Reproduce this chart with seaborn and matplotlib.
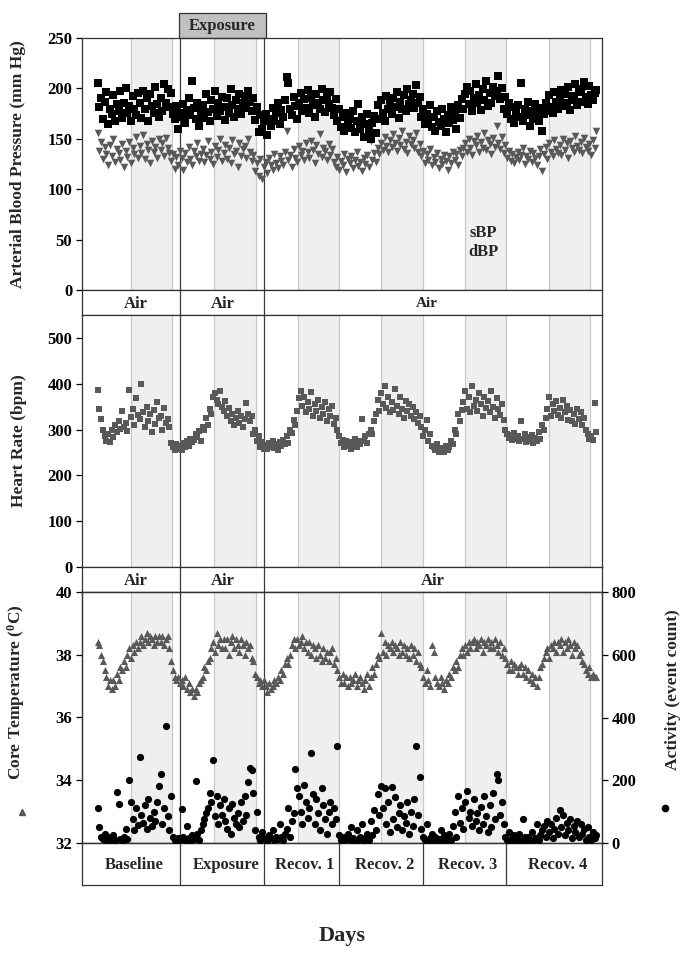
import numpy as np
import pandas as pd
import matplotlib
matplotlib.use('Agg')
import matplotlib.pyplot as plt
import matplotlib.transforms as mtransforms
from matplotlib.patches import Rectangle
from matplotlib.lines import Line2D
import seaborn as sns

# 30 min samples starting at 4.5 h
sbp = [205, 182, 190, 170, 187, 196, 165, 180, 175, 193, 168, 185,
       178, 197, 171, 186, 200, 176, 183, 168, 192, 180, 174, 195,
       186, 171, 197, 180, 190, 168, 194, 183, 176, 201, 185, 172,
       190, 178, 204, 186, 199, 182, 195, 175, 170, 183, 160, 176,
       172, 185, 166, 179, 190, 174, 207, 181, 170, 186, 163, 178,
       184, 171, 194, 177, 168, 188, 180, 197, 173, 186, 178, 191,
       182, 169, 190, 176, 199, 184, 172, 188, 180, 194, 175, 186,
       192, 181, 197, 187, 178, 190, 169, 182, 157, 174, 160, 168,
       175, 154, 170, 163, 181, 168, 176, 186, 165, 179, 172, 188,
       211, 205, 180, 174, 191, 183, 170, 186, 195, 178, 189, 181,
       198, 176, 190, 184, 172, 194, 186, 180, 199, 188, 177, 192,
       185, 196, 181, 174, 189, 168, 180, 162, 172, 158, 176, 166,
       170, 161, 178, 157, 168, 185, 160, 172, 152, 165, 175, 158,
       150, 166, 173, 156, 184, 170, 188, 176, 168, 192, 180, 185,
       175, 190, 182, 196, 171, 187, 180, 193, 178, 199, 185, 188,
       194, 181, 203, 186, 191, 172, 180, 165, 175, 168, 184, 162,
       172, 158, 178, 167, 163, 180, 170, 157, 174, 166, 182, 169,
       176, 160, 184, 171, 189, 180, 194, 201, 185, 197, 178, 190,
       204, 186, 193, 179, 199, 188, 207, 183, 195, 186, 201, 192,
       197, 212, 189, 200, 180, 191, 175, 186, 170, 182, 166, 178,
       184, 172, 205, 168, 180, 174, 187, 163, 178, 170, 185, 176,
       168, 181, 158, 175, 186, 178, 193, 182, 176, 196, 187, 180,
       190, 198, 183, 194, 186, 201, 179, 192, 188, 204, 184, 196,
       199, 187, 206, 191, 185, 202, 193, 188, 195, 198]

dbp = [156, 138, 147, 130, 142, 135, 124, 144, 133, 150, 127, 140,
       136, 129, 145, 122, 138, 132, 147, 126, 141, 135, 152, 131,
       143, 136, 154, 130, 145, 139, 126, 148, 137, 142, 131, 150,
       139, 146, 133, 151, 141, 136, 128, 135, 120, 132, 124, 138,
       131, 119, 136, 127, 142, 130, 124, 138, 133, 146, 128, 135,
       140, 127, 134, 148, 130, 137, 125, 143, 132, 139, 150, 128,
       136, 144, 130, 141, 126, 149, 135, 138, 122, 146, 133, 140,
       143, 131, 150, 137, 128, 134, 118, 126, 113, 130, 110, 122,
       127, 116, 131, 124, 119, 135, 126, 121, 133, 128, 124, 137,
       158, 129, 134, 122, 140, 131, 127, 143, 134, 138, 129, 146,
       137, 131, 148, 139, 126, 144, 135, 155, 132, 141, 138, 129,
       145, 134, 140, 127, 122, 132, 119, 128, 124, 135, 117, 130,
       126, 133, 121, 129, 137, 123, 127, 118, 131, 125, 134, 122,
       148, 129, 136, 127, 141, 135, 146, 139, 152, 143, 137, 149,
       142, 155, 146, 138, 151, 144, 158, 140, 147, 136, 153, 145,
       149, 141, 156, 137, 145, 133, 138, 126, 135, 129, 140, 124,
       132, 127, 136, 121, 130, 125, 134, 128, 119, 133, 126, 137,
       129, 135, 124, 139, 133, 141, 146, 137, 150, 141, 134, 148,
       144, 153, 137, 147, 141, 156, 139, 149, 145, 135, 151, 142,
       163, 146, 140, 152, 136, 144, 131, 138, 128, 135, 126, 132,
       137, 129, 134, 141, 125, 133, 130, 138, 127, 136, 131, 124,
       133, 140, 118, 135, 142, 130, 146, 137, 133, 149, 140, 136,
       144, 134, 150, 139, 146, 131, 148, 141, 137, 153, 143, 139,
       147, 136, 151, 142, 138, 145, 134, 149, 141, 158]

heart_rate = [387, 345, 322, 298, 285, 275, 290, 272, 300, 283, 310, 295,
              318, 302, 340, 306, 314, 296, 386, 328, 345, 310, 368, 332,
              322, 400, 338, 305, 350, 318, 335, 295, 342, 312, 360, 325,
              330, 298, 346, 315, 322, 305, 270, 262, 255, 268, 258, 264,
              256, 270, 262, 275, 265, 280, 272, 278, 290, 284, 296, 275,
              305, 298, 325, 310, 345, 335, 372, 380, 365, 355, 385, 350,
              340, 362, 330, 348, 318, 335, 310, 325, 340, 315, 330, 305,
              322, 357, 335, 318, 330, 290, 300, 275, 285, 262, 272, 258,
              266, 258, 270, 262, 275, 260, 268, 255, 272, 264, 278, 268,
              285, 270, 300, 292, 320, 310, 340, 368, 385, 352, 372, 338,
              360, 345, 382, 330, 355, 340, 365, 325, 350, 335, 360, 318,
              345, 330, 352, 312, 325, 300, 285, 270, 278, 262, 275, 265,
              272, 258, 268, 280, 262, 275, 268, 322, 275, 285, 270, 290,
              300, 290, 318, 335, 365, 340, 380, 355, 395, 348, 372, 338,
              360, 342, 388, 352, 335, 370, 345, 325, 362, 340, 355, 330,
              350, 322, 338, 315, 330, 305, 285, 300, 320, 275, 290, 265,
              262, 255, 268, 250, 260, 258, 252, 265, 255, 262, 275, 268,
              300, 290, 335, 318, 342, 360, 385, 345, 370, 338, 395, 352,
              365, 340, 380, 355, 330, 372, 348, 362, 338, 385, 350, 325,
              368, 345, 332, 355, 320, 300, 290, 282, 288, 278, 292, 280,
              285, 276, 318, 280, 290, 272, 284, 275, 288, 270, 282, 276,
              295, 280, 310, 298, 325, 345, 370, 330, 355, 340, 362, 332,
              348, 325, 365, 338, 352, 320, 342, 318, 335, 312, 345, 322,
              338, 310, 325, 300, 290, 280, 285, 278, 357, 295]

core_temp = [38.4, 38.3, 38.0, 37.8, 37.5, 37.3, 37.0, 37.2, 36.9, 37.2, 37.0, 37.4,
             37.2, 37.6, 37.5, 37.8, 37.6, 38.0, 38.2, 37.9, 38.3, 38.1, 38.4, 38.2,
             38.4, 38.6, 38.3, 38.5, 38.7, 38.4, 38.6, 38.5, 38.3, 38.6, 38.4, 38.6,
             38.4, 38.6, 38.3, 38.5, 38.6, 38.2, 37.8, 37.5, 37.3, 37.2, 37.3, 37.1,
             37.2, 37.0, 37.3, 36.9, 37.1, 36.8, 36.9, 36.7, 36.9, 36.8, 37.1, 37.2,
             37.3, 37.6, 37.5, 37.8, 37.9, 38.2, 38.4, 38.1, 38.7, 38.3, 38.5, 38.2,
             38.5, 38.2, 38.5, 38.0, 38.4, 38.6, 38.2, 38.5, 38.3, 38.1, 38.5, 38.3,
             38.0, 38.4, 38.2, 38.3, 37.9, 37.8, 37.4, 37.3, 37.1, 37.2, 37.0, 37.2,
             37.0, 36.8, 37.1, 36.9, 37.0, 37.2, 37.1, 37.3, 37.2, 37.5, 37.4, 37.7,
             37.9, 37.7, 38.0, 38.3, 38.5, 38.2, 38.5, 38.3, 38.4, 38.6, 38.2, 38.4,
             38.1, 38.4, 38.0, 38.3, 38.2, 37.9, 38.3, 38.0, 37.8, 38.2, 37.9, 38.1,
             37.8, 38.1, 38.2, 37.7, 37.9, 37.5, 37.3, 37.1, 37.4, 37.1, 37.3, 37.0,
             37.3, 37.1, 37.2, 37.4, 37.0, 37.2, 37.3, 37.1, 36.9, 37.2, 37.4, 37.0,
             37.3, 37.6, 37.4, 37.7, 38.0, 37.9, 38.7, 38.1, 38.4, 38.0, 38.3, 38.2,
             38.4, 38.1, 38.3, 38.2, 38.0, 38.4, 38.1, 38.3, 38.0, 38.2, 37.9, 38.3,
             38.0, 38.2, 37.8, 38.1, 37.7, 37.6, 37.3, 37.1, 37.5, 37.2, 37.0, 38.3,
             38.1, 37.3, 37.1, 37.0, 37.3, 37.1, 36.9, 37.2, 37.1, 37.4, 37.3, 37.6,
             37.5, 37.8, 37.6, 38.0, 38.2, 38.0, 38.3, 38.1, 38.4, 38.2, 38.4, 38.5,
             38.2, 38.4, 38.3, 38.5, 38.1, 38.4, 38.3, 38.5, 38.2, 38.4, 38.2, 38.5,
             38.3, 38.1, 38.4, 38.0, 38.2, 37.9, 37.7, 37.5, 37.8, 37.5, 37.7, 37.6,
             37.4, 37.6, 37.7, 37.4, 37.6, 37.3, 37.5, 37.2, 37.4, 37.1, 37.3, 37.0,
             37.3, 37.6, 37.7, 37.9, 38.1, 38.2, 37.9, 38.3, 38.2, 38.4, 38.1, 38.4,
             38.3, 38.5, 38.1, 38.4, 38.2, 38.5, 38.3, 38.0, 38.4, 38.2, 38.3, 38.0,
             38.1, 37.8, 37.7, 37.5, 37.4, 37.6, 37.3, 37.4, 37.3, 37.3]

activity = [113, 50, 20, 12, 30, 8, 18, 5, 15, 25, 10, 161,
            123, 12, 6, 20, 45, 14, 200, 130, 75, 40, 110, 58,
            274, 90, 65, 120, 45, 140, 80, 55, 100, 70, 130, 183,
            219, 60, 110, 374, 85, 40, 150, 20, 10, 5, 15, 8,
            108, 20, 10, 55, 15, 5, 25, 12, 199, 30, 8, 40,
            60, 75, 95, 110, 160, 130, 264, 85, 150, 60, 120, 90,
            140, 70, 45, 110, 30, 125, 80, 60, 95, 50, 130, 70,
            150, 90, 195, 238, 233, 160, 40, 100, 20, 8, 35, 15,
            10, 5, 25, 15, 40, 8, 20, 12, 60, 18, 10, 30,
            45, 112, 20, 70, 95, 235, 175, 150, 100, 60, 185, 130,
            80, 110, 286, 155, 60, 140, 95, 40, 175, 120, 75, 30,
            100, 130, 60, 110, 75, 309, 25, 10, 5, 20, 12, 30,
            8, 50, 15, 5, 40, 10, 20, 60, 6, 15, 30, 10,
            70, 25, 105, 40, 156, 90, 183, 110, 176, 60, 130, 35,
            180, 75, 146, 50, 95, 120, 40, 85, 65, 130, 30, 100,
            55, 140, 309, 90, 209, 45, 20, 10, 60, 5, 15, 30,
            8, 20, 5, 12, 40, 10, 25, 6, 18, 30, 10, 55,
            100, 20, 150, 65, 110, 45, 130, 165, 80, 100, 55, 140,
            70, 95, 40, 115, 60, 150, 85, 35, 120, 50, 160, 75,
            219, 200, 90, 130, 60, 20, 10, 35, 5, 15, 25, 8,
            12, 30, 5, 76, 18, 8, 20, 10, 35, 6, 15, 60,
            10, 25, 40, 55, 20, 70, 35, 60, 15, 45, 80, 30,
            105, 50, 90, 25, 65, 40, 75, 15, 55, 35, 70, 20,
            60, 30, 45, 10, 50, 20, 8, 35, 15, 25]

day_edges = [0, 28.1, 52.1, 73.4, 97.4, 121.3, 148.6]
day_names = ['Baseline', 'Exposure', 'Recov. 1', 'Recov. 2', 'Recov. 3', 'Recov. 4']
dark_on = [13.9, 37.7, 61.6, 85.5, 109.5, 133.4]
dark_off = [25.7, 49.6, 73.4, 97.4, 121.3, 145.2]


def hours(v):
    return 4.5 + 0.5 * np.arange(len(v))


bp_df = pd.DataFrame({'hours': hours(sbp), 'sBP': sbp, 'dBP': dbp[:len(sbp)]})
hr_df = pd.DataFrame({'hours': hours(heart_rate), 'HR': heart_rate})
tc_df = pd.DataFrame({'hours': hours(core_temp), 'Tc': core_temp})
act_df = pd.DataFrame({'hours': hours(activity), 'Act': activity})

sns.set_theme(style='ticks')
plt.rcParams['font.family'] = ['Liberation Serif', 'DejaVu Serif']
plt.rcParams['font.weight'] = 'bold'
plt.rcParams['axes.labelweight'] = 'bold'
plt.rcParams['mathtext.fontset'] = 'custom'
plt.rcParams['mathtext.rm'] = 'Liberation Serif:bold'
plt.rcParams['mathtext.it'] = 'Liberation Serif:bold'

GREY = '#595959'
EDGE = '#333333'
XMAX = day_edges[-1]

fig = plt.figure(figsize=(6.85, 9.59), dpi=100)
L, W = 82 / 685, 520 / 685


def fy(px):
    return 1 - px / 959


ax_bp = fig.add_axes([L, fy(290), W, fy(38) - fy(290)])
band1 = fig.add_axes([L, fy(315), W, fy(290) - fy(315)])
ax_hr = fig.add_axes([L, fy(567), W, fy(315) - fy(567)])
band2 = fig.add_axes([L, fy(592), W, fy(567) - fy(592)])
ax_tc = fig.add_axes([L, fy(843), W, fy(592) - fy(843)])
table = fig.add_axes([L, fy(885), W, fy(843) - fy(885)])


def style_panel(ax):
    ax.set_xlim(0, XMAX)
    ax.set_xticks([])
    for a, b in zip(dark_on, dark_off):
        ax.axvspan(a, b, color='#efefef', zorder=0, lw=0)
        ax.axvline(a, color='#c8c8c8', lw=0.9, zorder=0.5)
        ax.axvline(b, color='#c8c8c8', lw=0.9, zorder=0.5)
    for e in day_edges[1:3]:
        ax.axvline(e, color='#3a3a3a', lw=0.9, zorder=1)
    for s in ax.spines.values():
        s.set_visible(True)
        s.set_color(EDGE)
        s.set_linewidth(0.9)
    ax.tick_params(axis='y', direction='out', length=4, width=0.9, labelsize=12, pad=3, colors='black')
    ax.set_xlabel('')


def style_band(ax, edges):
    ax.set_xlim(0, XMAX)
    ax.set_ylim(0, 1)
    ax.set_xticks([])
    ax.set_yticks([])
    for e in edges:
        ax.axvline(e, color='#3a3a3a', lw=0.9)
    for s in ax.spines.values():
        s.set_visible(True)
        s.set_color(EDGE)
        s.set_linewidth(0.9)


# blood pressure
style_panel(ax_bp)
sns.scatterplot(data=bp_df, x='hours', y='sBP', marker='s', color='black', s=26, linewidth=0, ax=ax_bp, zorder=3)
sns.scatterplot(data=bp_df, x='hours', y='dBP', marker='v', color=GREY, s=30, linewidth=0, ax=ax_bp, zorder=2)
ax_bp.set_xlim(0, XMAX)
ax_bp.set_ylim(0, 250)
ax_bp.set_yticks(range(0, 251, 50))
ax_bp.set_xlabel('')
ax_bp.set_ylabel('Arterial Blood Pressure (mm Hg)', fontsize=12.5, fontweight='bold')
ax_bp.yaxis.set_label_coords(-0.108, 0.5)
ax_bp.text(114.6, 57, 'sBP', ha='center', va='center', fontsize=12, fontweight='bold')
ax_bp.text(114.6, 38, 'dBP', ha='center', va='center', fontsize=12, fontweight='bold')

# exposure box above the plot
trans = mtransforms.blended_transform_factory(ax_bp.transData, ax_bp.transAxes)
ax_bp.add_patch(Rectangle((27.7, 1.0), 24.9, 25 / 252, transform=trans, facecolor='#c0c0c0',
                          edgecolor=EDGE, lw=0.9, clip_on=False))
ax_bp.text(27.7 + 24.9 / 2, 1.0 + 12.5 / 252, 'Exposure', transform=trans, ha='center', va='center',
           fontsize=12, fontweight='bold')

# heart rate
style_panel(ax_hr)
sns.scatterplot(data=hr_df, x='hours', y='HR', marker='s', color=GREY, s=20, linewidth=0, ax=ax_hr, zorder=2)
ax_hr.set_xlim(0, XMAX)
ax_hr.set_ylim(0, 550)
ax_hr.set_yticks(range(0, 501, 100))
ax_hr.set_xlabel('')
ax_hr.set_ylabel('Heart Rate (bpm)', fontsize=12.5, fontweight='bold')
ax_hr.yaxis.set_label_coords(-0.106, 0.5)

# core temperature + activity
style_panel(ax_tc)
sns.scatterplot(data=tc_df, x='hours', y='Tc', marker='^', color=GREY, s=26, linewidth=0, ax=ax_tc, zorder=2)
ax_tc.set_xlim(0, XMAX)
ax_tc.set_ylim(32, 40)
ax_tc.set_yticks(range(32, 41, 2))
ax_tc.set_xlabel('')
ax_tc.set_ylabel('Core Temperature ($^{0}$C)', fontsize=12.5, fontweight='bold')
ax_tc.yaxis.set_label_coords(-0.106, 0.60)

ax_act = ax_tc.twinx()
sns.scatterplot(data=act_df, x='hours', y='Act', marker='o', color='black', s=27, linewidth=0, ax=ax_act, zorder=3)
ax_act.set_xlim(0, XMAX)
ax_act.set_ylim(0, 800)
ax_act.set_yticks(range(0, 801, 200))
ax_act.set_xticks([])
ax_act.set_xlabel('')
ax_act.tick_params(axis='y', direction='out', length=4, width=0.9, labelsize=12, pad=3, colors='black')
ax_act.set_ylabel('Activity (event count)', fontsize=12.5, fontweight='bold', rotation=90)
ax_act.yaxis.set_label_coords(1.121, 0.61)
for s in ax_act.spines.values():
    s.set_color(EDGE)
    s.set_linewidth(0.9)

# series symbols under the bottom axis labels
fig.add_artist(Line2D([22 / 685], [fy(812)], marker='^', color=GREY, markersize=4, transform=fig.transFigure))
fig.add_artist(Line2D([665 / 685], [fy(808)], marker='o', color='black', markersize=4.5, transform=fig.transFigure))

# "Air" bands
for band, third_x in ((band1, 98.6), (band2, 100.3)):
    style_band(band, day_edges[1:3])
    band.text((day_edges[0] + day_edges[1]) / 2 + 1.3, 0.45, 'Air', ha='center', va='center', fontsize=12, fontweight='bold')
    band.text((day_edges[1] + day_edges[2]) / 2, 0.45, 'Air', ha='center', va='center', fontsize=12, fontweight='bold')
    band.text(third_x, 0.45, 'Air', ha='center', va='center', fontsize=11 if band is band1 else 12, fontweight='bold')

# day labels
style_band(table, day_edges[1:-1])
for i, name in enumerate(day_names):
    table.text((day_edges[i] + day_edges[i + 1]) / 2 + 1, 0.48, name, ha='center', va='center',
               fontsize=12, fontweight='bold')

fig.text(342 / 685, fy(936), 'Days', ha='center', va='center', fontsize=16, fontweight='bold')

fig.savefig('out.png', dpi=100)
